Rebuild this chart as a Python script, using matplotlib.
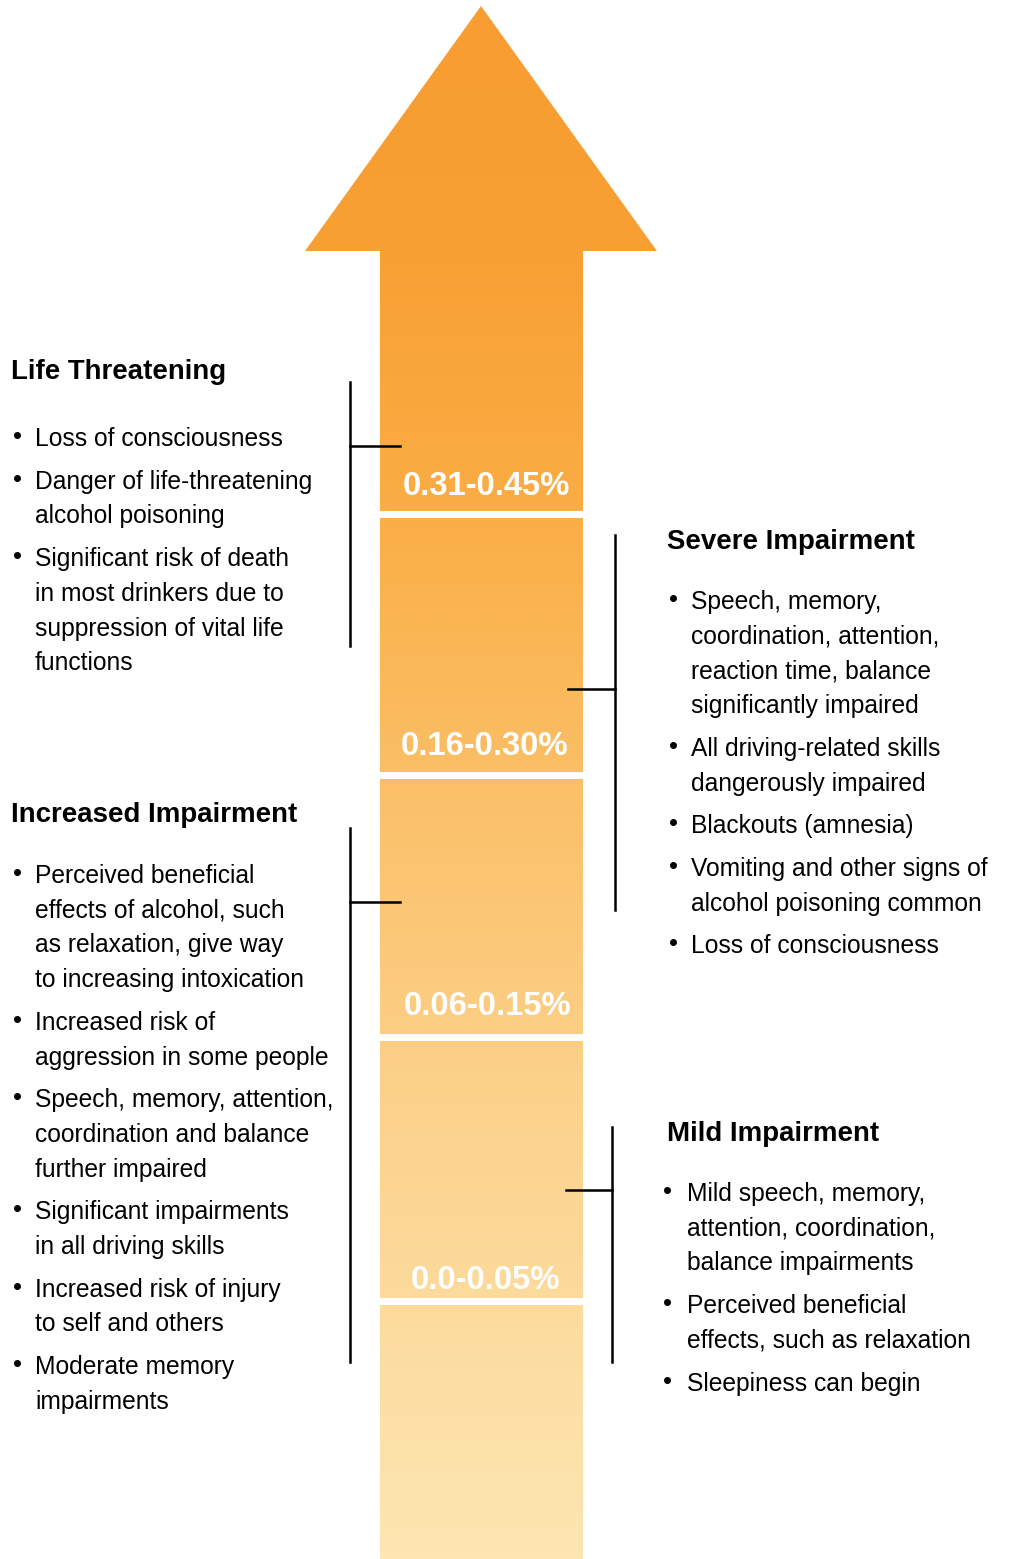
import matplotlib
matplotlib.use("Agg")
import matplotlib.pyplot as plt
import numpy as np
from matplotlib.patches import Polygon, Rectangle
from matplotlib.colors import LinearSegmentedColormap

# ---------------- data ----------------
bac_labels = ["0.31-0.45%", "0.16-0.30%", "0.06-0.15%", "0.0-0.05%"]

heading_life = "Life Threatening"
bullets_life = [
    ["Loss of consciousness"],
    ["Danger of life-threatening", "alcohol poisoning"],
    ["Significant risk of death", "in most drinkers due to",
     "suppression of vital life", "functions"],
]

heading_increased = "Increased Impairment"
bullets_increased = [
    ["Perceived beneficial", "effects of alcohol, such",
     "as relaxation, give way", "to increasing intoxication"],
    ["Increased risk of", "aggression in some people"],
    ["Speech, memory, attention,", "coordination and balance",
     "further impaired"],
    ["Significant impairments", "in all driving skills"],
    ["Increased risk of injury", "to self and others"],
    ["Moderate memory", "impairments"],
]

heading_severe = "Severe Impairment"
bullets_severe = [
    ["Speech, memory,", "coordination, attention,",
     "reaction time, balance", "significantly impaired"],
    ["All driving-related skills", "dangerously impaired"],
    ["Blackouts (amnesia)"],
    ["Vomiting and other signs of", "alcohol poisoning common"],
    ["Loss of consciousness"],
]

heading_mild = "Mild Impairment"
bullets_mild = [
    ["Mild speech, memory,", "attention, coordination,",
     "balance impairments"],
    ["Perceived beneficial", "effects, such as relaxation"],
    ["Sleepiness can begin"],
]

# ---------------- figure ----------------
W, H = 1010, 1559
fig = plt.figure(figsize=(W / 100, H / 100), dpi=100)
ax = fig.add_axes([0, 0, 1, 1])
ax.set_xlim(0, W)
ax.set_ylim(H, 0)
ax.axis("off")

FONT = "Liberation Sans"

# arrow with vertical gradient
arrow_pts = [(481, 6), (657, 251), (583, 251), (583, H + 2), (380, H + 2),
             (380, 251), (305, 251)]
cmap = LinearSegmentedColormap.from_list(
    "grad",
    [(0.0, (247/255, 157/255, 49/255)),
     (0.16, (248/255, 160/255, 52/255)),
     (0.32, (250/255, 173/255, 68/255)),
     (0.52, (251/255, 193/255, 106/255)),
     (0.71, (252/255, 210/255, 140/255)),
     (1.0, (253/255, 230/255, 178/255))])
grad = np.linspace(0, 1, 600).reshape(-1, 1)
im = ax.imshow(grad, cmap=cmap, aspect="auto", extent=[300, 660, H, 0],
               interpolation="bilinear", zorder=1)
poly = Polygon(arrow_pts, closed=True, facecolor="none", edgecolor="none")
ax.add_patch(poly)
im.set_clip_path(poly)

# white separators
sep_tops = [511, 772, 1034, 1298]
for y in sep_tops:
    ax.add_patch(Rectangle((378, y), 207, 7, facecolor="white",
                           edgecolor="none", zorder=2))

# BAC labels
label_pos = [(486, 495), (485, 755), (488, 1015), (485, 1289)]
for lab, (x, y) in zip(bac_labels, label_pos):
    ax.text(x, y, lab, color="white", fontsize=23.6, fontweight="bold",
            family=FONT, ha="center", va="baseline", zorder=3)

LINE = 34.7
GAP = 8.0
BODY_FS = 17.7
HEAD_FS = 19.9


def block(heading, hx, hy, bullets, dot_x, text_x, first_y):
    ax.text(hx, hy, heading, fontsize=HEAD_FS, fontweight="bold",
            family=FONT, ha="left", va="baseline", color="black")
    y = first_y
    for item in bullets:
        ax.text(dot_x, y - 2, "\u2022", fontsize=BODY_FS + 1, family=FONT,
                ha="center", va="baseline", color="black")
        for line in item:
            ax.text(text_x, y, line, fontsize=BODY_FS, family=FONT,
                    ha="left", va="baseline", color="black")
            y += LINE
        y += GAP


block(heading_life, 11, 379, bullets_life, 17, 35, 446)
block(heading_increased, 11, 822, bullets_increased, 17, 35, 883)
block(heading_severe, 667, 549, bullets_severe, 673, 691, 609)
block(heading_mild, 667, 1141, bullets_mild, 668, 687, 1201)

# brackets
lw = 1.8
ax.plot([350, 350], [382, 646], color="black", lw=lw, zorder=4)
ax.plot([350, 400], [446, 446], color="black", lw=lw, zorder=4)
ax.plot([350, 350], [828, 1362], color="black", lw=lw, zorder=4)
ax.plot([350, 400], [902, 902], color="black", lw=lw, zorder=4)
ax.plot([615, 615], [535, 910], color="black", lw=lw, zorder=4)
ax.plot([568, 615], [689, 689], color="black", lw=lw, zorder=4)
ax.plot([612, 612], [1127, 1362], color="black", lw=lw, zorder=4)
ax.plot([566, 612], [1190, 1190], color="black", lw=lw, zorder=4)

fig.savefig("out.png", dpi=100, facecolor="white")
